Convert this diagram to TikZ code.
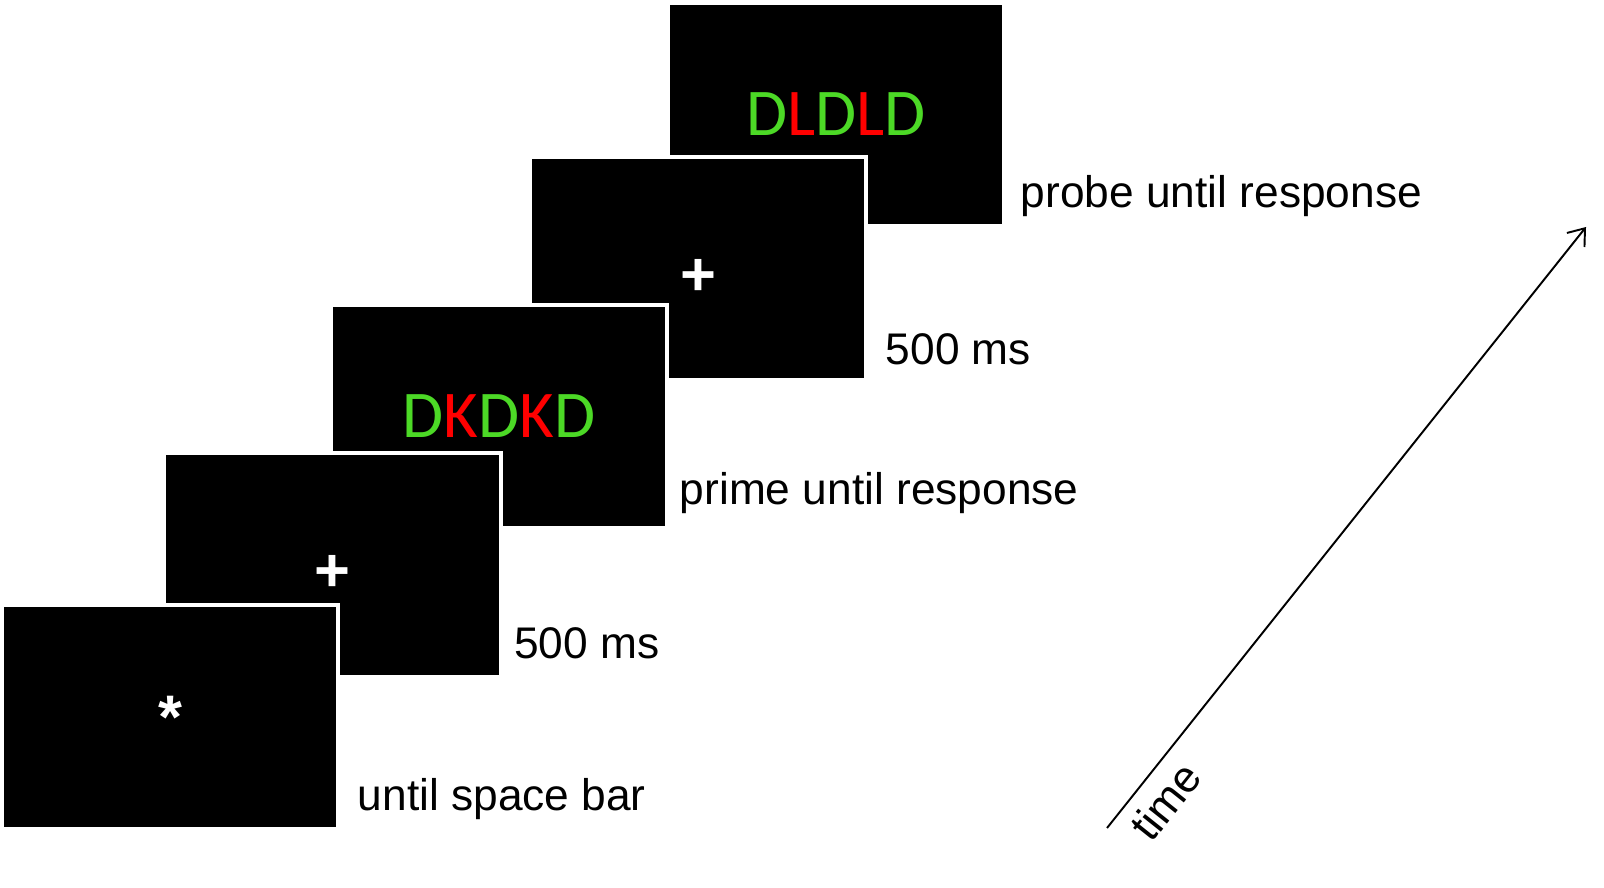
\documentclass[tikz,border=0pt]{standalone}
\usepackage{fontspec}
\setmainfont{Liberation Sans}
\newfontfamily\stimfont{Carlito}
\usetikzlibrary{arrows.meta, positioning}
\definecolor{stimGreen}{RGB}{76,217,38}
\definecolor{stimRed}{RGB}{255,0,0}

\begin{document}
\begin{tikzpicture}[
    screen/.style={fill=black, draw=white, line width=2.5pt, minimum width=6.73cm, minimum height=4.47cm, text=white, inner sep=0pt},
    stim/.style={font=\stimfont\fontsize{38}{38}\selectfont},
    fixmark/.style={font=\bfseries\fontsize{35}{35}\selectfont},
    cross/.style={fixmark, text height=1.06cm, text depth=0pt},
    timing/.style={font=\fontsize{25.2}{30}\selectfont, inner sep=0pt, anchor=base west},
    arrow/.style={line width=1.1pt, -{Straight Barb[length=0.3cm, width=0.45cm]}}
]
    \useasboundingbox (0, 0) rectangle (32.08, 17.74);

    % screens, drawn back to front
    \node[screen, stim] (s5) at (16.72, 15.45) {\textcolor{stimGreen}{D}\textcolor{stimRed}{L}\textcolor{stimGreen}{D}\textcolor{stimRed}{L}\textcolor{stimGreen}{D}};
    \node[screen, cross] (s4) at (13.96, 12.37) {+};
    \node[screen, stim] (s3) at (9.98, 9.41) {\textcolor{stimGreen}{D}\textcolor{stimRed}{K}\textcolor{stimGreen}{D}\textcolor{stimRed}{K}\textcolor{stimGreen}{D}};
    \node[screen, cross] (s2) at (6.65, 6.44) {+};
    \node[screen, fixmark] (s1) at (3.40, 3.40) {*};

    % durations
    \node[above right=0.40cm and 0.34cm of s1.south east, timing] (d1) {until space bar};
    \node[above right=0.40cm and 0.22cm of s2.south east, timing] (d2) {500 ms};
    \node[above right=0.52cm and 0.20cm of s3.south east, timing] (d3) {prime until response};
    \node[above right=0.36cm and 0.34cm of s4.south east, timing] (d4) {500 ms};
    \node[above right=0.42cm and 0.28cm of s5.south east, timing] (d5) {probe until response};

    % time axis
    \coordinate (t0) at (22.14, 1.18);
    \coordinate (t1) at (31.72, 13.20);
    \draw[arrow] (t0) -- (t1) node[pos=0.075, sloped, below=0.12cm, font=\fontsize{25.2}{30}\selectfont] (tl) {time};
\end{tikzpicture}
\end{document}
